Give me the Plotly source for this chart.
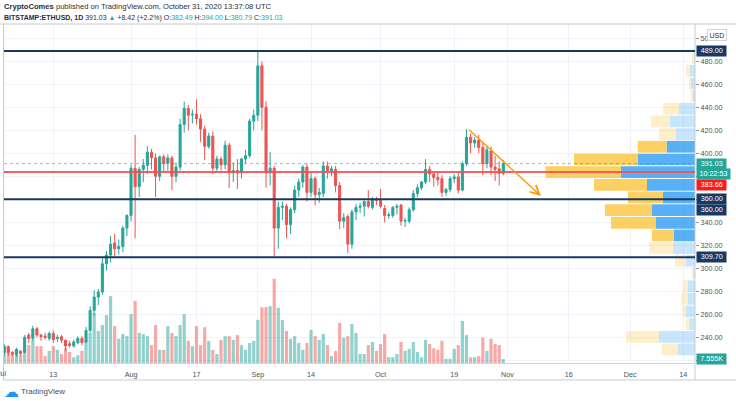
import plotly.graph_objects as go
import pandas as pd

# ---------------- data ----------------
dates = pd.date_range("2020-07-01", "2020-10-31", freq="D")

opens = [227, 232, 227, 225, 228, 227, 242, 239, 247.5, 242, 241, 239, 243.5, 239, 240.5, 237.5,
         234.5, 232.5, 235.5, 239, 236, 246, 263.5, 275, 279.5, 304, 311.5, 322, 317, 319, 335,
         346, 387, 371, 386, 389.5, 401, 396, 380, 397, 391.5, 396, 380, 388, 425, 439, 433.5,
         434, 430, 421, 406, 415, 387, 395, 390, 407, 383, 385, 383, 395, 398, 428,
         433, 476, 440, 383, 387, 335, 353, 354, 338, 351, 368, 375, 388, 366, 378, 364, 365,
         389, 385, 386, 372, 341, 345, 321, 349, 353, 354, 358, 353, 360,
         360, 352, 346, 346, 353, 355, 341, 341, 351, 365, 370, 375, 386, 382, 379, 378,
         366, 368.5, 378, 379.5, 368, 391, 414, 409, 411.5, 405, 391, 402, 388, 386.5, 382.49]
highs = [234, 233, 228, 231, 229, 242, 244, 250, 249, 243, 244, 245, 246, 242, 242, 238,
         237, 238, 241, 241, 249, 267, 281, 282, 309, 315, 328, 330, 325, 337, 347,
         390, 416, 388, 395, 406, 404, 400, 398, 399, 399, 398, 392, 430, 445, 442, 438,
         447, 434, 424, 418, 419, 398, 397, 411, 409, 392, 395, 396, 403, 430, 438,
         489, 480, 445, 401, 389, 358, 358, 356, 353, 372, 378, 390, 391, 384, 380, 370, 393,
         393, 389, 389, 375, 348, 347, 351, 356, 357, 359, 368, 362, 362,
         369, 355, 349, 354, 356, 356, 344, 353, 368, 373, 376, 395, 389, 384, 383, 381,
         370, 380, 382, 383, 393, 421, 417, 414, 416, 410, 406, 406, 398, 393, 394.0]
lows = [224, 224, 224, 223, 224, 226, 235, 237, 240, 237, 238, 237, 235, 236, 235, 228,
        231, 231, 234, 233, 235, 244, 259, 268, 277, 298, 305, 309, 312, 314, 328,
        341, 326, 362, 375, 382, 386, 362, 376, 383, 384, 368, 375, 385, 418, 420, 426,
        425, 410, 394, 404, 382, 384, 385, 386, 370, 375, 369, 378, 391, 396, 420,
        428, 420, 370, 372, 310, 317, 342, 326, 330, 348, 362, 370, 358, 362, 355, 357, 362,
        378, 380, 366, 334, 335, 313, 317, 342, 348, 345, 352, 351, 355,
        352, 340, 343, 344, 347, 337, 336, 339, 349, 362, 368, 373, 375, 371, 372, 362,
        363, 366, 374, 365, 367, 389, 400, 405, 400, 381, 387, 381, 376, 372, 380.79]
closes = [232, 227, 225.5, 229.5, 226, 240, 239, 247.5, 242, 240.5, 240, 243.5, 238, 240, 237.5, 232.5,
          233, 236, 239, 235.5, 246, 263.5, 275, 279.5, 304, 311.5, 321, 317, 319, 335, 346,
          387, 371, 386, 389.5, 401, 396, 380, 397, 391, 396, 380, 388, 425, 439, 433, 434,
          430, 421, 406, 415, 387, 395, 390, 407, 383, 385, 383, 395, 398, 428, 433,
          476, 440, 383, 387, 335, 353, 354, 338, 351, 368, 375, 388, 366, 378, 364, 366, 389,
          385, 386.5, 372, 341, 344, 321, 349, 353, 354, 358, 354, 360, 359,
          354, 346, 346.5, 353, 354, 341, 341.5, 351, 365, 370, 375, 386, 382, 379, 377, 366,
          368.5, 378, 379.5, 368, 391, 414, 409, 411.5, 405, 391, 403, 388, 386, 382.49, 391.03]
volumes_k = [34, 30, 17, 25, 15, 25, 34, 44, 32, 32, 13, 23, 32, 25, 17, 28, 21, 11, 15, 23,
             42, 57, 95, 61, 72, 91, 127, 70, 46, 55, 51,
             93, 118, 57, 55, 51, 34, 72, 25, 25, 70, 57, 51, 72, 93, 42, 32, 70, 34, 68, 42,
             25, 17, 44, 51, 51, 44, 53, 34, 25, 38, 42,
             82, 106, 106, 108, 160, 105, 82, 61, 46, 51, 38, 25, 38, 63, 51, 44, 55, 34, 13,
             23, 76, 48, 51, 74, 57, 17, 17, 34, 40,
             23, 36, 55, 11, 11, 17, 40, 23, 27, 40, 21, 11, 44, 36, 28, 25, 42, 8, 8, 27, 34,
             80, 53, 11, 11, 13, 48, 23, 46, 36, 34, 7.555]

# visible-range volume profile (price rows, up / down volume)
vp_prices = [229.5, 240.5, 251.5, 262.5, 273.5, 284.5, 295.5, 306.6, 317.6, 328.6, 339.6, 350.6,
             361.6, 372.6, 383.6, 394.6, 405.7, 416.7, 427.7, 438.7, 449.7, 460.7, 471.7, 482.8]
vp_up = [17.3, 36, 5.7, 9, 7, 7, 1.7, 9, 22, 21, 39, 43, 32, 48, 74, 57, 28.3, 19, 25, 16, 2.3, 4, 5, 1]
vp_down = [16, 33, 3.6, 3.3, 7, 5, 1.7, 11, 24, 22, 45, 47, 35, 53, 75.3, 64, 29, 17, 19, 15.7, 2, 2, 4, 2]
vp_value_area = [0, 0, 0, 0, 0, 0, 0, 0, 0, 1, 1, 1, 1, 1, 1, 1, 1, 0, 0, 0, 0, 0, 0, 0]

levels_navy = [489.00, 360.00, 309.70]
level_red = 383.66
last_price = 391.03
last_volume = "7.555K"
countdown = "10:22:53"

arrow_start = ("2020-10-22 06:00", 421.7)
arrow_end = ("2020-11-09 05:00", 362.9)

xtick_dates = ["2020-07-01", "2020-07-13", "2020-08-01", "2020-08-17", "2020-09-01", "2020-09-14",
               "2020-10-01", "2020-10-19", "2020-11-01", "2020-11-16", "2020-12-01", "2020-12-14"]
xtick_text = ["Jul", "13", "Aug", "17", "Sep", "14", "Oct", "19", "Nov", "16", "Dec", "14"]
ytick_vals = [220, 240, 260, 280, 300, 320, 340, 360, 380, 400, 420, 440, 460, 480, 500]
ytick_text = ["", "240.00", "260.00", "280.00", "300.00", "320.00", "340.00", "", "", "400.00",
              "420.00", "440.00", "460.00", "480.00", "500.00"]

assert len(dates) == len(opens) == len(highs) == len(lows) == len(closes) == len(volumes_k)

# ---------------- styling ----------------
UP = "#26a69a"
DOWN = "#ef5350"
NAVY = "#163a63"
FONT = "Liberation Sans"
TXT = "#2a2e39"
W, H = 736, 401
ML, MR, MT, MB = 4, 41, 24, 38
PW, PH = W - ML - MR, H - MT - MB


def px_x(px):
    return (px - ML) / PW


def px_y(py):
    return (H - MB - py) / PH


vol_colors = ["rgba(38,166,154,0.5)" if c >= o else "rgba(239,83,80,0.5)" for o, c in zip(opens, closes)]
up_colors = ["rgba(33,150,243,0.75)" if v else "rgba(33,150,243,0.25)" for v in vp_value_area]
dn_colors = ["rgba(251,192,45,0.75)" if v else "rgba(251,192,45,0.25)" for v in vp_value_area]

fig = go.Figure()

# volume (base subplot)
fig.add_trace(go.Bar(x=dates, y=volumes_k, marker=dict(color=vol_colors, line=dict(width=0)),
                     width=0.78 * 86400000, xaxis="x", yaxis="y", hoverinfo="skip"))

# volume profile
fig.add_trace(go.Bar(y=vp_prices, x=vp_up, base=[0] * len(vp_up), orientation="h",
                     marker=dict(color=up_colors, line=dict(width=0)), width=10.2,
                     xaxis="x2", yaxis="y2", hoverinfo="skip"))
fig.add_trace(go.Bar(y=vp_prices, x=vp_down, base=vp_up, orientation="h",
                     marker=dict(color=dn_colors, line=dict(width=0)), width=10.2,
                     xaxis="x2", yaxis="y2", hoverinfo="skip"))

# candles
fig.add_trace(go.Candlestick(x=dates, open=opens, high=highs, low=lows, close=closes,
                             increasing=dict(line=dict(color=UP, width=1), fillcolor=UP),
                             decreasing=dict(line=dict(color=DOWN, width=1), fillcolor=DOWN),
                             xaxis="x", yaxis="y2", hoverinfo="skip"))

shapes = []
# pane frame
frame = "#c8cbd3"
shapes.append(dict(type="line", xref="paper", yref="paper", x0=px_x(0), x1=px_x(W), y0=px_y(24), y1=px_y(24),
                   line=dict(color=frame, width=1)))
shapes.append(dict(type="line", xref="paper", yref="paper", x0=px_x(3.5), x1=px_x(3.5), y0=px_y(24), y1=px_y(380),
                   line=dict(color=frame, width=1)))
shapes.append(dict(type="line", xref="paper", yref="paper", x0=1, x1=1, y0=px_y(24), y1=px_y(380),
                   line=dict(color=frame, width=1)))
shapes.append(dict(type="line", xref="paper", yref="paper", x0=px_x(3.5), x1=px_x(W), y0=px_y(380), y1=px_y(380),
                   line=dict(color=frame, width=1)))
# levels
shapes.append(dict(type="line", xref="paper", yref="y2", x0=0, x1=1, y0=last_price, y1=last_price,
                   line=dict(color="rgba(38,166,154,0.6)", width=1, dash="dot"), layer="above"))
for lv in levels_navy:
    shapes.append(dict(type="line", xref="paper", yref="y2", x0=0, x1=1, y0=lv, y1=lv,
                       line=dict(color=NAVY, width=2), layer="above"))
shapes.append(dict(type="line", xref="paper", yref="y2", x0=0, x1=1, y0=level_red, y1=level_red,
                   line=dict(color="rgba(245,80,78,0.9)", width=2), layer="above"))

annotations = []
hdr1 = "<b>CryptoComes</b> published on TradingView.com, October 31, 2020 13:37:08 UTC"
t = "<span style='color:%s'>%%s</span>" % UP
hdr2 = ("<b>BITSTAMP:ETHUSD, 1D</b> 391.03 " + t % "▲" + " +8.42 (+2.2%) "
        "O:" + t % "382.49" + " H:" + t % "394.00" + " L:" + t % "380.79" +
        " C:" + t % "391.03")
annotations.append(dict(text=hdr1, xref="paper", yref="paper", x=px_x(2), y=px_y(6.5), xanchor="left",
                        yanchor="middle", showarrow=False, font=dict(family=FONT, size=7.6, color=TXT)))
annotations.append(dict(text=hdr2, xref="paper", yref="paper", x=px_x(2), y=px_y(17.5), xanchor="left",
                        yanchor="middle", showarrow=False, font=dict(family=FONT, size=7.0, color=TXT)))


def price_label(text, y, bg, yref="y2", yshift=0, width=27):
    annotations.append(dict(text=text, xref="paper", yref=yref, x=1, y=y, xanchor="left", yanchor="middle",
                            xshift=1, yshift=yshift, showarrow=False, bgcolor=bg, borderpad=1.2,
                            width=width, height=7.2, align="center",
                            font=dict(family=FONT, size=7.2, color="white")))


price_label("%.2f" % levels_navy[0], levels_navy[0], NAVY)
price_label("%.2f" % last_price, last_price, UP)
price_label(countdown, last_price, UP, yshift=-10.6, width=30.5)
price_label("%.2f" % level_red, level_red, "#ff1a1a", yshift=-12.5)
price_label("%.2f" % levels_navy[1], levels_navy[1], NAVY)
price_label("%.2f" % levels_navy[1], levels_navy[1], NAVY, yshift=-10.6)
price_label("%.2f" % levels_navy[2], levels_navy[2], NAVY)
price_label(last_volume, volumes_k[-1], UP, yref="y")

annotations.append(dict(text="USD", xref="paper", yref="paper", x=px_x(717), y=px_y(35.5), xanchor="center",
                        yanchor="middle", showarrow=False, bgcolor="white", bordercolor="#d1d4dc",
                        borderwidth=1, borderpad=1.5, font=dict(family=FONT, size=7, color=TXT)))

# first month label sits at the very left edge (partly cut off in the reference)
annotations.append(dict(text=xtick_text[0], xref="x", yref="paper", x=xtick_dates[0], y=px_y(373),
                        xanchor="center", yanchor="middle", showarrow=False, xshift=-2,
                        font=dict(family=FONT, size=7.2, color="#4c525e")))

# trend arrow
annotations.append(dict(text="", x=arrow_end[0], y=arrow_end[1], ax=arrow_start[0], ay=arrow_start[1],
                        xref="x", yref="y2", axref="x", ayref="y2", showarrow=True, arrowhead=5,
                        arrowsize=1.3, arrowwidth=1.4, arrowcolor="#ff9800", standoff=0, startstandoff=0))

# TradingView logo
annotations.append(dict(text="☁", xref="paper", yref="paper", x=px_x(2), y=px_y(391.5), xanchor="left",
                        yanchor="middle", showarrow=False, font=dict(family="DejaVu Sans", size=15, color="#2196f3")))
annotations.append(dict(text="TradingView", xref="paper", yref="paper", x=px_x(19), y=px_y(391.5), xanchor="left",
                        yanchor="middle", showarrow=False, font=dict(family=FONT, size=8, color="#4a4e59")))

fig.update_layout(
    width=W, height=H,
    margin=dict(l=ML, r=MR, t=MT, b=MB, pad=0),
    paper_bgcolor="white", plot_bgcolor="white",
    showlegend=False, barmode="overlay", boxgap=0.28,
    font=dict(family=FONT, size=7.2, color="#4c525e"),
    xaxis=dict(type="date", range=["2020-06-30 22:50", "2020-12-16 20:40"],
               tickvals=xtick_dates[1:], ticktext=xtick_text[1:], ticks="", ticklabelstandoff=4,
               showgrid=True, gridcolor="#f0f3fa",
               gridwidth=1, showline=True, linecolor="#d1d4dc", linewidth=1, zeroline=False,
               rangeslider=dict(visible=False), tickfont=dict(size=7.2, color="#4c525e"),
               fixedrange=True),
    yaxis=dict(range=[0, 644], visible=False, showgrid=False, zeroline=False, fixedrange=True),
    yaxis2=dict(range=[217.7, 512.4], overlaying="y", side="right", anchor="x",
                tickvals=ytick_vals, ticktext=ytick_text, ticks="outside", ticklen=3, tickcolor="#9598a1",
                showgrid=True, gridcolor="#f0f3fa", gridwidth=1, showline=False, zeroline=False,
                tickfont=dict(size=7.2, color="#4c525e"), fixedrange=True),
    xaxis2=dict(range=[PW, 0], overlaying="x", visible=False, showgrid=False, zeroline=False, fixedrange=True),
    shapes=shapes, annotations=annotations,
)

fig.write_html("out.html")
